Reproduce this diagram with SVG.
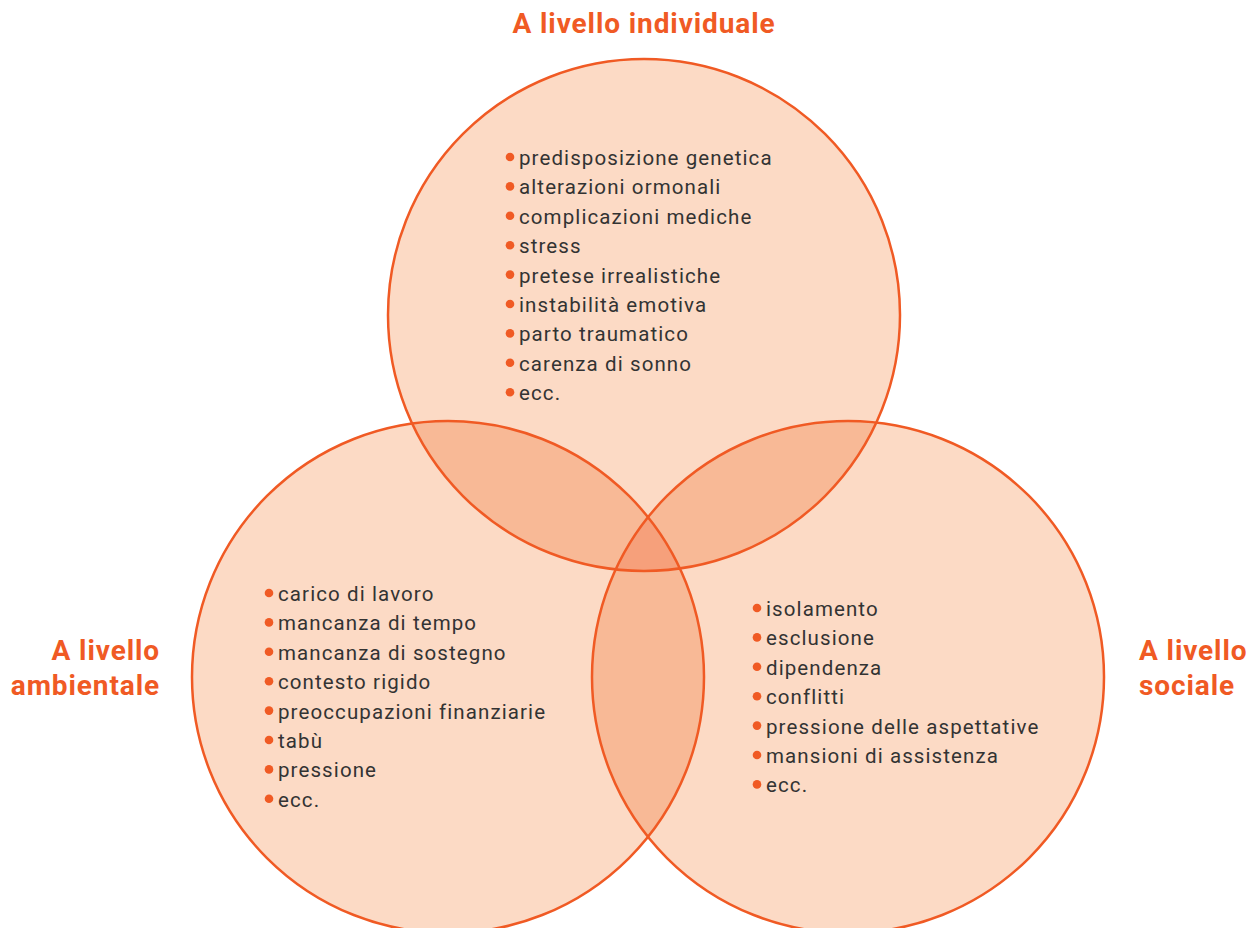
<svg xmlns="http://www.w3.org/2000/svg" width="1258" height="928" viewBox="0 0 1258 928">
<style>
.title{font-family:Roboto,"Liberation Sans",sans-serif;font-weight:bold;font-size:28px;fill:#F05A24;letter-spacing:0.9px}
.item{font-family:Roboto,"Liberation Sans",sans-serif;font-size:20.5px;fill:#333333;letter-spacing:1.1px}
.dot{fill:#F05A24}
.ring{fill:none;stroke:#F05A24;stroke-width:2.5}
</style>
<defs>
<clipPath id="cTop"><circle cx="644" cy="315" r="256"/></clipPath>
<clipPath id="cLeft"><circle cx="448" cy="677" r="256"/></clipPath>
<clipPath id="cRight"><circle cx="848" cy="677" r="256"/></clipPath>
</defs>
<rect width="1258" height="928" fill="#ffffff"/>
<g id="fills">
<circle cx="644" cy="315" r="256" fill="#FCDAC5"/>
<circle cx="448" cy="677" r="256" fill="#FCDAC5"/>
<circle cx="848" cy="677" r="256" fill="#FCDAC5"/>
<circle cx="448" cy="677" r="256" fill="#F8B996" clip-path="url(#cTop)"/>
<circle cx="848" cy="677" r="256" fill="#F8B996" clip-path="url(#cTop)"/>
<circle cx="848" cy="677" r="256" fill="#F8B996" clip-path="url(#cLeft)"/>
<g clip-path="url(#cTop)"><circle cx="848" cy="677" r="256" fill="#F6A07B" clip-path="url(#cLeft)"/></g>
</g>
<g id="connectors"></g>
<g id="rings">
<circle class="ring" cx="644" cy="315" r="256"/>
<circle class="ring" cx="448" cy="677" r="256"/>
<circle class="ring" cx="848" cy="677" r="256"/>
</g>
<g id="node-individuale">
<text class="title" x="644" y="33" text-anchor="middle">A livello individuale</text>
<g class="dot">
<circle cx="510" cy="157" r="4.3"/><circle cx="510" cy="186.4" r="4.3"/><circle cx="510" cy="215.8" r="4.3"/><circle cx="510" cy="245.2" r="4.3"/><circle cx="510" cy="274.6" r="4.3"/><circle cx="510" cy="304" r="4.3"/><circle cx="510" cy="333.4" r="4.3"/><circle cx="510" cy="362.8" r="4.3"/><circle cx="510" cy="392.2" r="4.3"/>
</g>
<text class="item" x="519" y="165">predisposizione genetica</text>
<text class="item" x="519" y="194.4">alterazioni ormonali</text>
<text class="item" x="519" y="223.8">complicazioni mediche</text>
<text class="item" x="519" y="253.2">stress</text>
<text class="item" x="519" y="282.6">pretese irrealistiche</text>
<text class="item" x="519" y="312">instabilità emotiva</text>
<text class="item" x="519" y="341.4">parto traumatico</text>
<text class="item" x="519" y="370.8">carenza di sonno</text>
<text class="item" x="519" y="400.2">ecc.</text>
</g>
<g id="node-ambientale">
<text class="title" x="160" y="660" text-anchor="end">A livello</text>
<text class="title" x="160" y="695" text-anchor="end">ambientale</text>
<g class="dot">
<circle cx="269" cy="593" r="4.3"/><circle cx="269" cy="622.4" r="4.3"/><circle cx="269" cy="651.8" r="4.3"/><circle cx="269" cy="681.2" r="4.3"/><circle cx="269" cy="710.6" r="4.3"/><circle cx="269" cy="740" r="4.3"/><circle cx="269" cy="769.4" r="4.3"/><circle cx="269" cy="798.8" r="4.3"/>
</g>
<text class="item" x="278" y="601">carico di lavoro</text>
<text class="item" x="278" y="630.4">mancanza di tempo</text>
<text class="item" x="278" y="659.8">mancanza di sostegno</text>
<text class="item" x="278" y="689.2">contesto rigido</text>
<text class="item" x="278" y="718.6">preoccupazioni finanziarie</text>
<text class="item" x="278" y="748">tabù</text>
<text class="item" x="278" y="777.4">pressione</text>
<text class="item" x="278" y="806.8">ecc.</text>
</g>
<g id="node-sociale">
<text class="title" x="1139" y="660">A livello</text>
<text class="title" x="1139" y="695">sociale</text>
<g class="dot">
<circle cx="757" cy="608" r="4.3"/><circle cx="757" cy="637.4" r="4.3"/><circle cx="757" cy="666.8" r="4.3"/><circle cx="757" cy="696.2" r="4.3"/><circle cx="757" cy="725.6" r="4.3"/><circle cx="757" cy="755" r="4.3"/><circle cx="757" cy="784.4" r="4.3"/>
</g>
<text class="item" x="766" y="616">isolamento</text>
<text class="item" x="766" y="645.4">esclusione</text>
<text class="item" x="766" y="674.8">dipendenza</text>
<text class="item" x="766" y="704.2">conflitti</text>
<text class="item" x="766" y="733.6">pressione delle aspettative</text>
<text class="item" x="766" y="763">mansioni di assistenza</text>
<text class="item" x="766" y="792.4">ecc.</text>
</g>
</svg>
